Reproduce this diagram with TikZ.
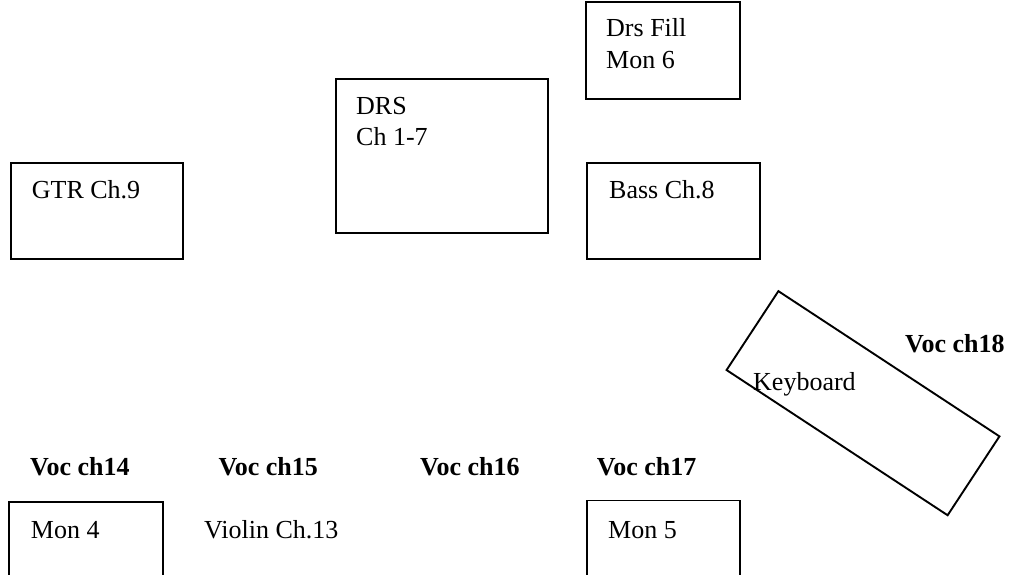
\documentclass[tikz,border=0pt]{standalone}
\usepackage{fontspec}
\setmainfont{Liberation Serif}
\usetikzlibrary{fit}
\begin{document}
\begin{tikzpicture}[x=1pt,y=-1pt,
  box/.style={draw=black, line width=1.9pt, inner sep=0pt, outer sep=0pt, rectangle},
  lbl/.style={anchor=base west, inner sep=0pt, font=\fontsize{26}{31}\selectfont},
  blbl/.style={lbl, font=\fontsize{26}{31}\selectfont\bfseries}]
\useasboundingbox (0,0) rectangle (1014,575);
\clip (0,0) rectangle (1014,575);
% boxes
\node[box, fit={(585.7,2) (740,98.7)}] (drsfill) {};
\node[box, fit={(335.7,79) (547.7,233)}] (drs) {};
\node[box, fit={(10.7,163.3) (183.3,259.3)}] (gtr) {};
\node[box, fit={(586.7,163.3) (760,259.3)}] (bass) {};
\node[box, fit={(9.3,501.7) (163.3,600)}] (mon4) {};
\node[box, fit={(586.7,500.5) (740,600)}] (mon5) {};
\node[box, minimum width=264.5pt, minimum height=94.4pt, rotate=-33.3] (keyboard) at (863,403.2) {};
% labels
\node[lbl] (t1) at (606,37) {Drs Fill};
\node[lbl] (t2) at (606,68.3) {Mon 6};
\node[lbl] (t3) at (356,114) {DRS};
\node[lbl] (t4) at (356,146) {Ch 1-7};
\node[lbl] (t5) at (31.7,198) {GTR Ch.9};
\node[lbl] (t6) at (609,198) {Bass Ch.8};
\node[lbl] (t7) at (753,390) {Keyboard};
\node[blbl] (v18) at (905,352) {Voc ch18};
\node[blbl] (v14) at (30,475) {Voc ch14};
\node[blbl] (v15) at (218.3,475) {Voc ch15};
\node[blbl] (v16) at (420,475) {Voc ch16};
\node[blbl] (v17) at (596.7,475) {Voc ch17};
\node[lbl] (t8) at (30.7,538) {Mon 4};
\node[lbl] (t9) at (204,538) {Violin Ch.13};
\node[lbl] (t10) at (608,538) {Mon 5};
\end{tikzpicture}
\end{document}
